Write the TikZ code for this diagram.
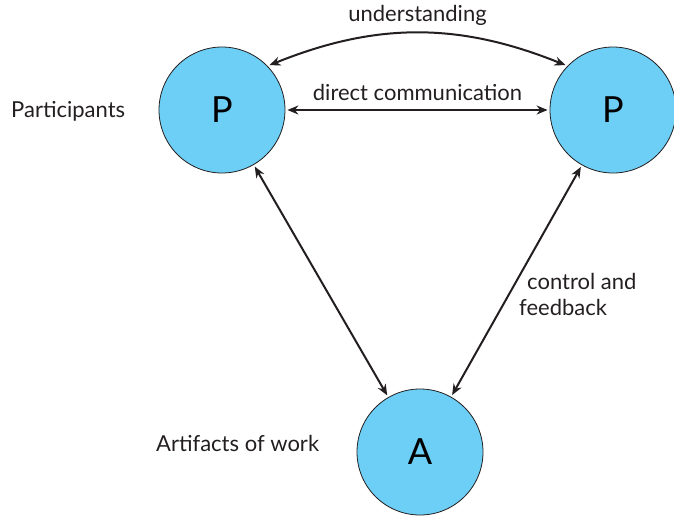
\documentclass[tikz,border=0pt]{standalone}
\usepackage{fontspec}
\setmainfont{Lato}
\usetikzlibrary{arrows.meta}

\definecolor{partblue}{HTML}{6DCFF6}
\definecolor{inkdark}{HTML}{231F20}

\tikzset{
	party/.style={circle,draw=inkdark,line width=0.8pt,fill=partblue,minimum size=126pt,inner sep=0pt,font=\fontsize{36}{42}\selectfont},
	link/.style={{Stealth[length=11pt,width=9pt]}-{Stealth[length=11pt,width=9pt]},line width=2pt,draw=inkdark,shorten <=2pt,shorten >=2pt},
	lbl/.style={text=inkdark,font=\fontsize{22}{26}\selectfont,inner sep=0pt}
}

\begin{document}
\begin{tikzpicture}[x=1pt,y=-1pt]

	\useasboundingbox (0,0) rectangle (674,515);

	% circles
	\node[party] (pleft) at (222,110) {P};
	\node[party] (pright) at (613,110) {P};
	\node[party] (art) at (420,452) {A};

	% arrows
	\draw[link] (pleft) -- node[lbl,above=8pt] {direct communication} (pright);
	\draw[link] (pleft.44) to[out=22,in=158] node[lbl,above=7pt] {understanding} (pright.136);
	\draw[link] (pleft) -- (art);
	\draw[link] (pright) -- (art);

	% labels
	\node[lbl,anchor=west] (partlbl) at (11,111) {Participants};
	\node[lbl,anchor=west] (artlbl) at (156,443) {Artifacts of work};
	\node[lbl,anchor=north west,align=left] (ctrllbl) at (519,273) {\hspace{8pt}control and\\feedback};

\end{tikzpicture}
\end{document}
